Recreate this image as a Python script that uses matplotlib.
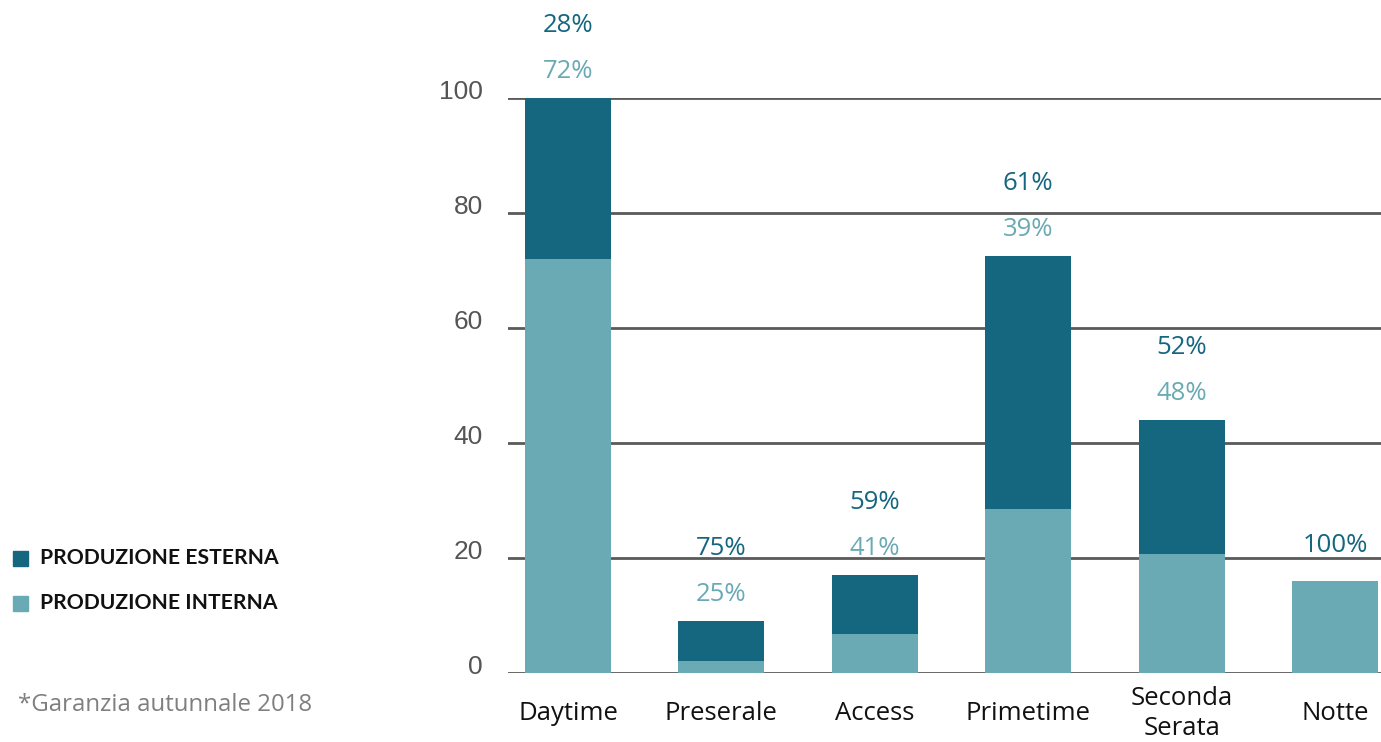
import matplotlib
matplotlib.use("Agg")
import matplotlib.pyplot as plt
from matplotlib.transforms import ScaledTranslation
from matplotlib.patches import Rectangle

categories = ["Daytime", "Preserale", "Access", "Primetime", "Seconda\nSerata", "Notte"]
interna = [72.0, 2.1, 6.8, 28.6, 20.8, 16.1]
esterna = [28.0, 6.95, 10.2, 43.9, 23.2, 0.0]
label_esterna = ["28%", "75%", "59%", "61%", "52%", "100%"]
label_interna = ["72%", "25%", "41%", "39%", "48%", ""]
yticks = [0, 20, 40, 60, 80, 100]
ytick_labels = ["0", "20", "40", "60", "80", "100"]

DARK = "#15667F"
LIGHT = "#6AAAB4"
GRID = "#5A5A5A"

W, H, DPI = 1381, 742, 100
PX = 72 / DPI
fig = plt.figure(figsize=(W / DPI, H / DPI), dpi=DPI)
ax = fig.add_axes([508 / W, (H - 673.3) / H, (1381 - 508) / W, (673.3 - 98) / H])

x = list(range(len(categories)))
ax.bar(x, interna, width=0.56, color=LIGHT, zorder=3)
ax.bar(x, esterna, width=0.56, bottom=interna, color=DARK, zorder=3)

ax.set_ylim(0, 100)
ax.set_xlim(-0.391, 5.30)
ax.set_yticks(yticks)
ax.set_yticklabels(ytick_labels)
ax.yaxis.grid(True, color=GRID, linewidth=2, zorder=0)
ax.set_axisbelow(True)
for s in ax.spines.values():
    s.set_visible(False)
ax.tick_params(axis="y", length=0, pad=18, labelsize=19, labelcolor="#555555")
for lab in ax.get_yticklabels():
    lab.set_fontfamily("Liberation Sans")
    lab.set_transform(lab.get_transform() + ScaledTranslation(0, 6 / 72, fig.dpi_scale_trans))

ax.set_xticks(x)
ax.set_xticklabels(categories, fontfamily="Open Sans", fontsize=18.5, color="#111111",
                   va="center", linespacing=1.28)
ax.tick_params(axis="x", length=0, pad=29)

FS = 18.5
for i in x:
    total = interna[i] + esterna[i]
    if label_interna[i]:
        ax.annotate(label_esterna[i], (i, total), xytext=(0, 66.5 * PX), textcoords="offset points",
                    ha="center", va="baseline", fontsize=FS, color=DARK, fontfamily="Open Sans")
        ax.annotate(label_interna[i], (i, total), xytext=(0, 20 * PX), textcoords="offset points",
                    ha="center", va="baseline", fontsize=FS, color=LIGHT, fontfamily="Open Sans")
    else:
        ax.annotate(label_esterna[i], (i, total), xytext=(0, 28.5 * PX), textcoords="offset points",
                    ha="center", va="baseline", fontsize=FS, color=DARK, fontfamily="Open Sans")

# legend
for yy, col, txt in [(558, DARK, "PRODUZIONE ESTERNA"), (603, LIGHT, "PRODUZIONE INTERNA")]:
    fig.patches.append(Rectangle((13 / W, (H - yy - 7.5) / H), 15 / W, 15 / H,
                                 transform=fig.transFigure, color=col))
    fig.text(40 / W, (H - yy) / H, txt, fontfamily="Lato", fontweight="bold", fontsize=15.2,
             color="#111111", va="center", ha="left")

fig.text(18 / W, (H - 705) / H, "*Garanzia autunnale 2018", fontfamily="Open Sans", fontsize=17.3,
         color="#7F7F7F", va="center", ha="left")

fig.savefig("out.png", dpi=DPI, facecolor="white")
